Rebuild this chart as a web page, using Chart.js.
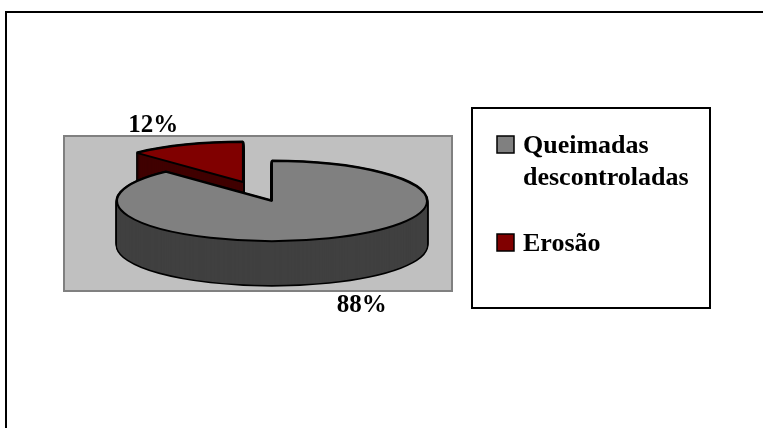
<!DOCTYPE html>
<html><head><meta charset="utf-8">
<script src="https://cdn.jsdelivr.net/npm/chart.js@4/dist/chart.umd.min.js"></script>
<style>html,body{margin:0;padding:0;background:#fff;overflow:hidden}canvas{display:block}</style>
</head><body>
<canvas id="c" width="763" height="428"></canvas>
<script>
// ---- data ----
const categories = ['Queimadas descontroladas', 'Erosão'];
const values = [88, 12];
// ---- styles ----
const topColors = ['#808080', '#800000'];
const sideColors = ['#404040', '#400000'];
const explodeOffsets = [0, 79];

const TILT = 40 / 155;
const DEPTH = 44;
const FONT = '"Liberation Serif", "Times New Roman", serif';
const LABEL_GAP = 39;

const pie3d = {
  id: 'pie3d',
  beforeDraw(chart) {
    const ctx = chart.ctx;
    ctx.save();
    ctx.fillStyle = '#fff';
    ctx.fillRect(0, 0, chart.width, chart.height);
    ctx.strokeStyle = '#000';
    ctx.lineWidth = 2;
    ctx.beginPath();
    ctx.moveTo(6, chart.height + 2);
    ctx.lineTo(6, 12);
    ctx.lineTo(chart.width + 2, 12);
    ctx.stroke();
    ctx.fillStyle = '#c0c0c0';
    ctx.fillRect(64, 136, 388, 155);
    ctx.strokeStyle = '#808080';
    ctx.lineWidth = 2;
    ctx.strokeRect(64, 136, 388, 155);
    ctx.restore();
  },
  beforeDatasetsDraw(chart) {
    const ctx = chart.ctx;
    const meta = chart.getDatasetMeta(0);
    const base = ctx.getTransform();
    const origStroke = CanvasRenderingContext2D.prototype.stroke;
    ctx.stroke = function (...a) { this.save(); this.setTransform(base); origStroke.apply(this, a); this.restore(); };
    const drawEl = (i, shift, opts) => {
      const el = meta.data[i];
      const cx = el.x, cy = el.y;
      ctx.save();
      ctx.translate(0, shift);
      ctx.translate(cx, cy); ctx.scale(1, TILT); ctx.translate(-cx, -cy);
      const half = (el.startAngle + el.endAngle) / 2;
      const e = explodeOffsets[i];
      ctx.translate(Math.cos(half) * e, Math.sin(half) * e);
      const orig = el.options;
      el.options = Object.assign({}, orig, opts);
      el.draw(ctx);
      el.options = orig;
      ctx.restore();
    };
    const order = [1, 0];
    for (const i of order) {
      for (let s = DEPTH; s >= 0; s--) drawEl(i, s, {backgroundColor: '#000', borderColor: '#000', borderWidth: 3});
      for (let s = DEPTH; s >= 1; s--) drawEl(i, s, {backgroundColor: sideColors[i], borderColor: sideColors[i], borderWidth: 0});
      drawEl(i, 0, {backgroundColor: topColors[i], borderColor: '#000', borderWidth: 2});
    }
    delete ctx.stroke;
    return false;
  },
  afterDraw(chart) {
    const ctx = chart.ctx;
    const meta = chart.getDatasetMeta(0);
    const total = values.reduce((a, b) => a + b, 0);
    ctx.save();
    // data labels
    ctx.font = 'bold 25px ' + FONT;
    ctx.fillStyle = '#000';
    ctx.textAlign = 'center';
    ctx.textBaseline = 'alphabetic';
    meta.data.forEach((el, i) => {
      const half = (el.startAngle + el.endAngle) / 2;
      const R = el.outerRadius;
      const e = explodeOffsets[i];
      const c = Math.cos(half), s = Math.sin(half);
      let x = el.x + c * (R + e);
      let y = el.y + s * (R + e) * TILT;
      if (s > 0) y += DEPTH;
      const dx = c * R, dy = s * R * TILT;
      const len = Math.hypot(dx, dy);
      x += dx / len * LABEL_GAP;
      y += dy / len * LABEL_GAP;
      ctx.fillText(Math.round(values[i] / total * 100) + '%', x, y + 8.5);
    });
    // legend
    ctx.fillStyle = '#fff';
    ctx.fillRect(472, 108, 238, 200);
    ctx.strokeStyle = '#000';
    ctx.lineWidth = 2;
    ctx.strokeRect(472, 108, 238, 200);
    ctx.font = 'bold 26px ' + FONT;
    ctx.textAlign = 'left';
    const wrap = (t, w) => {
      const words = t.split(' ');
      const out = [];
      let cur = '';
      for (const wd of words) {
        const test = cur ? cur + ' ' + wd : wd;
        if (cur && ctx.measureText(test).width > w) { out.push(cur); cur = wd; } else cur = test;
      }
      if (cur) out.push(cur);
      return out;
    };
    let y = 153;
    categories.forEach((label, i) => {
      const lines = wrap(label, 180);
      ctx.fillStyle = topColors[i];
      ctx.fillRect(497, y - 17, 17, 17);
      ctx.strokeStyle = '#000';
      ctx.lineWidth = 1.5;
      ctx.strokeRect(497, y - 17, 17, 17);
      ctx.fillStyle = '#000';
      lines.forEach((ln, j) => ctx.fillText(ln, 523, y + j * 32));
      y += lines.length * 32 + 34;
    });
    ctx.restore();
  }
};

new Chart(document.getElementById('c'), {
  type: 'pie',
  data: {
    labels: categories,
    datasets: [{
      data: values,
      backgroundColor: topColors,
      borderColor: '#000',
      borderWidth: 2
    }]
  },
  options: {
    responsive: false,
    animation: false,
    events: [],
    radius: 155,
    layout: {padding: {left: 72, right: 291, top: 46, bottom: 72}},
    plugins: {legend: {display: false}, tooltip: {enabled: false}}
  },
  plugins: [pie3d]
});
</script>
</body></html>
